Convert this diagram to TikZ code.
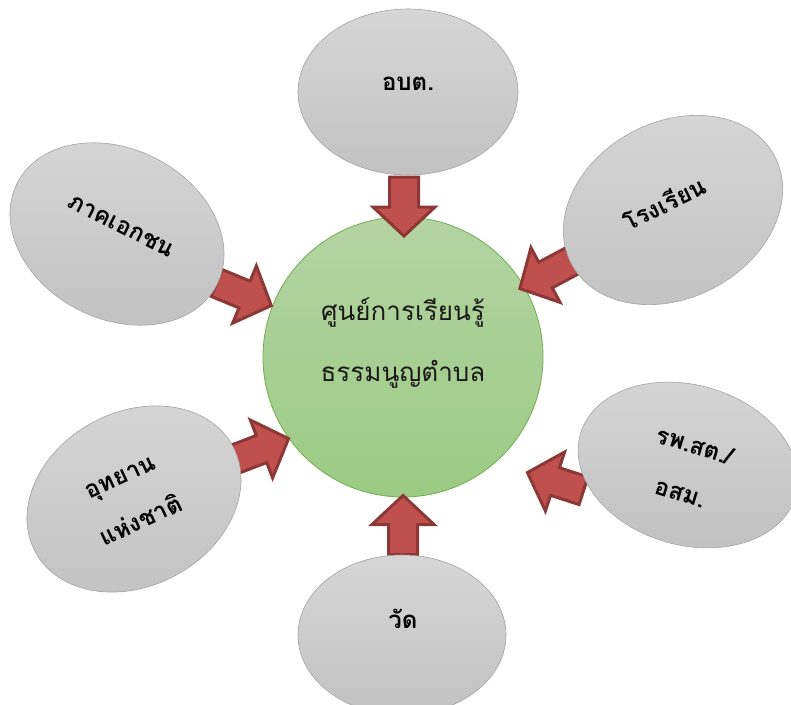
\documentclass[tikz,border=0pt]{standalone}
\usepackage{fontspec}
\newfontfamily\thai[Script=Thai]{Loma}
\usetikzlibrary{shapes.geometric}
\definecolor{ellfillA}{HTML}{D6D6D6}
\definecolor{ellfillB}{HTML}{C2C2C2}
\definecolor{elldraw}{HTML}{A3A3A3}
\definecolor{gtop}{HTML}{B4D4A2}
\definecolor{gbot}{HTML}{9CCA84}
\definecolor{gdraw}{HTML}{72AE4C}
\definecolor{arfill}{HTML}{C0504D}
\definecolor{ardraw}{HTML}{8C3836}
\begin{document}
\begin{tikzpicture}[x=1pt,y=-1pt,
  bubble/.style={ellipse, draw=elldraw, line width=0.6pt, top color=ellfillA, bottom color=ellfillB, inner sep=0pt},
  lbl/.style={inner sep=0pt, font=\thai\bfseries\fontsize{24}{49}\selectfont, align=center, text=black},
  hub/.style={circle, draw=gdraw, line width=0.8pt, top color=gtop, bottom color=gbot,
    minimum size=280, inner sep=0pt},
  hublbl/.style={inner sep=0pt, font=\thai\fontsize{26}{61}\selectfont, align=center, text=black!90},
  blockarrow/.pic={\draw[fill=arfill, draw=ardraw, line width=3pt, line join=miter]
    (-30,-14.5) -- (0,-14.5) -- (0,-31) -- (29,0) -- (0,31) -- (0,14.5) -- (-30,14.5) -- cycle;}
]
\useasboundingbox (0,0) rectangle (791,704);
\node[hub] (hub) at (403,357) {};
\node[hublbl] (hubtext) at (403,343) {ศูนย์การเรียนรู้\\ธรรมนูญตำบล};

\coordinate (at) at (404,207);
\coordinate (ab) at (403,524.5);
\coordinate (alt) at (244.5,294.5);
\coordinate (art) at (545.5,275);
\coordinate (alb) at (261.5,449);
\coordinate (arb) at (555,481.5);
\pic[rotate=-90] at (at) {blockarrow};
\pic[rotate=90] at (ab) {blockarrow};
\pic[rotate=-22.5] at (alt) {blockarrow};
\pic[rotate=208] at (art) {blockarrow};
\pic[rotate=21] at (alb) {blockarrow};
\pic[rotate=162] at (arb) {blockarrow};

\node[bubble, minimum width=220, minimum height=166] (t) at (408,92) {};
\node[bubble, minimum width=208, minimum height=160] (b) at (402,635) {};
\node[bubble, minimum width=224, minimum height=170, rotate=-27] (lt) at (117,234) {};
\node[bubble, minimum width=230, minimum height=176, rotate=28] (rt) at (673,210) {};
\node[bubble, minimum width=224, minimum height=174, rotate=28] (lb) at (134,499) {};
\node[bubble, minimum width=224, minimum height=160, rotate=-16] (rb) at (688,465) {};

\node[lbl] (tl) at (408,84) {อบต.};
\node[lbl] (bl) at (403,619) {วัด};
\node[lbl, rotate=-27] (ltl) at (121,226) {ภาคเอกชน};
\node[lbl, rotate=26] (rtl) at (664,203) {โรงเรียน};
\node[lbl, rotate=25] (lbl) at (131,500) {อุทยาน\\แห่งชาติ};
\node[lbl, rotate=-17] (rbl) at (688,469) {รพ.สต./\\อสม.};
\end{tikzpicture}
\end{document}
